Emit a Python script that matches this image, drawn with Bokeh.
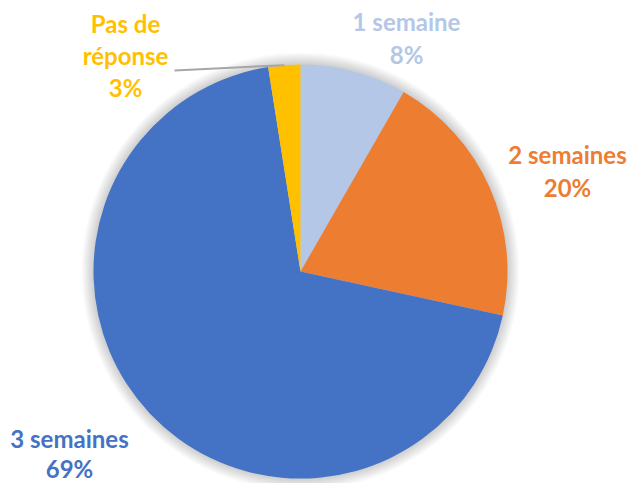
import math
from bokeh.plotting import figure
from bokeh.models import Range1d, ColumnDataSource
from bokeh.core.properties import value
from bokeh.embed import file_html
from bokeh.resources import INLINE

# ---- data ----
categories = ["1 semaine", "2 semaines", "3 semaines", "Pas de réponse"]
values = [8.3, 20.1, 69.1, 2.5]
pct_labels = ["8%", "20%", "69%", "3%"]
colors = ["#B4C7E7", "#ED7D31", "#4472C4", "#FFC000"]

# ---- layout (pixels in figure space) ----
W, H = 635, 483
CX, CY, R = 300, 212, 207
FONT = "Lato"
FSIZE = "24px"
# label block: (x center, first baseline), wrapped category lines
label_pos = [(406, 462), (567, 329), (69, 45), (125, 460)]
label_gap = [33, 33, 30, 32]
label_wrap = [["1 semaine"], ["2 semaines"], ["3 semaines"], ["Pas de", "réponse"]]
leader_start = (174, 413)

p = figure(width=W, height=H, x_range=Range1d(0, W), y_range=Range1d(0, H),
           x_axis_type=None, y_axis_type=None, output_backend="svg",
           toolbar_location=None, min_border=0)
p.grid.visible = False
p.outline_line_color = None
p.background_fill_color = "white"
p.border_fill_color = "white"

# soft shadow around the pie
for k in range(12, 0, -1):
    p.circle(x=[CX], y=[CY], radius=R + k, fill_color="black", fill_alpha=0.014,
             line_color=None)

# wedges
total = sum(values)
starts, ends, mids = [], [], []
cum = 0.0
for v in values:
    a0 = math.pi / 2 - 2 * math.pi * cum / total
    cum += v
    a1 = math.pi / 2 - 2 * math.pi * cum / total
    starts.append(a0)
    ends.append(a1)
    mids.append((a0 + a1) / 2)

src = ColumnDataSource(dict(start=starts, end=ends, color=colors, cat=categories))
p.wedge(x=CX, y=CY, radius=R, start_angle="start", end_angle="end",
        direction="clock", fill_color="color", line_color=None, source=src)

# leader line for last slice
m = mids[3]
p.line(x=[leader_start[0], CX + R * math.cos(m)], y=[leader_start[1], CY + R * math.sin(m)],
       line_color="#A6A6A6", line_width=2)

# labels
xs, ys, txt, cols = [], [], [], []
for i in range(len(categories)):
    lines = label_wrap[i] + [pct_labels[i]]
    x0, y0 = label_pos[i]
    for j, ln in enumerate(lines):
        xs.append(x0)
        ys.append(y0 - j * label_gap[i])
        txt.append(ln)
        cols.append(colors[i])
p.text(x=xs, y=ys, text=txt, text_color=cols, text_font=value(FONT),
       text_font_style="bold", text_font_size=FSIZE, text_align="center",
       text_baseline="alphabetic")

open("out.html", "w").write(file_html(p, INLINE))
